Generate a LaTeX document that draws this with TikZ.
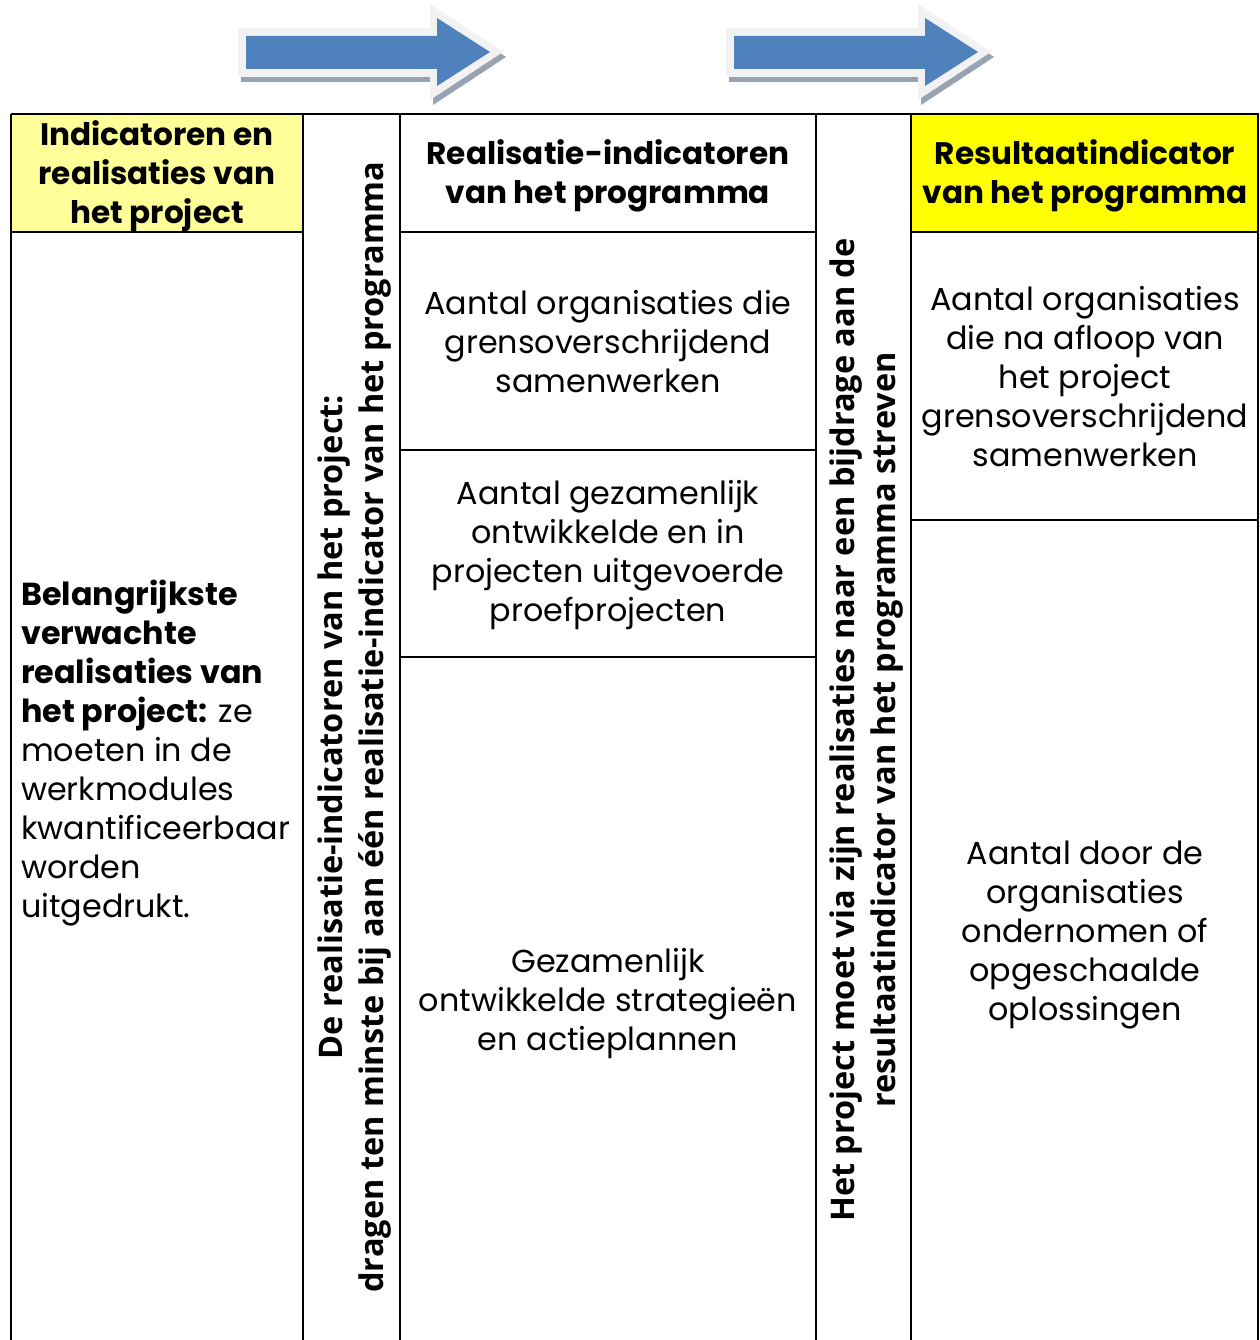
\documentclass[tikz,border=0pt]{standalone}
\usepackage{fontspec}
\setmainfont{Poppins}
\newfontfamily\vfont{Open Sans}
\definecolor{lightyel}{HTML}{FFFF99}
\definecolor{fullyel}{HTML}{FFFF00}
\definecolor{arrblue}{HTML}{4F81BD}
\definecolor{arredge}{HTML}{F2F2F2}
\definecolor{arrshadow}{HTML}{97A2B2}
\begin{document}
\begin{tikzpicture}[x=1pt,y=-1pt,
  grid/.style={line width=2pt,black},
  txt/.style={align=center,font=\fontsize{31.8}{39}\selectfont,inner sep=0pt},
  btxt/.style={align=center,font=\fontsize{31.1}{39}\selectfont\bfseries,inner sep=0pt},
  vtxt/.style={align=center,font=\fontsize{32.5}{41}\selectfont\vfont\bfseries,inner sep=0pt,rotate=90},
]
\useasboundingbox (0,0) rectangle (1259,1340);
% arrows
\foreach \dx/\nm in {0/a1,488/a2}{
  \begin{scope}[xshift=\dx pt]
  \fill[arrshadow] (241,33) -- (433,33) -- (433,9) -- (506,57) -- (433,105) -- (433,82) -- (241,82) -- cycle;
  \fill[arredge] (238,28) -- (430,28) -- (430,4) -- (503,52) -- (430,100) -- (430,77) -- (238,77) -- cycle;
  \fill[arrblue] (246,36) -- (437,36) -- (437,18) -- (490,52) -- (437,86) -- (437,69) -- (246,69) -- cycle;
  \coordinate (\nm) at (370,52);
  \end{scope}
}
% fills
\fill[lightyel] (11,114) rectangle (303,232);
\fill[fullyel] (911,114) rectangle (1259,232);
% grid
\draw[grid] (11,114) -- (1259,114);
\draw[grid] (11,1341) -- (11,114);
\draw[grid] (303,114) -- (303,1341);
\draw[grid] (400,114) -- (400,1341);
\draw[grid] (816,114) -- (816,1341);
\draw[grid] (911,114) -- (911,1341);
\draw[grid] (1258,114) -- (1258,1341);
\draw[grid] (11,232) -- (303,232);
\draw[grid] (400,232) -- (816,232);
\draw[grid] (911,232) -- (1259,232);
\draw[grid] (400,450) -- (816,450);
\draw[grid] (400,657) -- (816,657);
\draw[grid] (911,520) -- (1259,520);
% texts
\node[btxt] (h1) at (157,176) {Indicatoren en\\realisaties van\\het project};
\node[btxt] (h3) at (608,176) {Realisatie-indicatoren\\van het programma};
\node[btxt] (h5) at (1085,176) {Resultaatindicator\\van het programma};
\node[txt,align=left,anchor=west] (b1) at (21,753) {\textbf{Belangrijkste}\\\textbf{verwachte}\\\textbf{realisaties van}\\\textbf{het project:} ze\\moeten in de\\werkmodules\\kwantificeerbaar\\worden\\uitgedrukt.};
\node[txt] (c31) at (608,342) {Aantal organisaties die\\grensoverschrijdend\\samenwerken};
\node[txt] (c32) at (608,555) {Aantal gezamenlijk\\ontwikkelde en in\\projecten uitgevoerde\\proefprojecten};
\node[txt] (c33) at (608,1004) {Gezamenlijk\\ontwikkelde strategieën\\en actieplannen};
\node[txt] (c51) at (1085,377) {Aantal organisaties\\die na afloop van\\het project\\grensoverschrijdend\\samenwerken};
\node[txt] (c52) at (1085,935) {Aantal door de\\organisaties\\ondernomen of\\opgeschaalde\\oplossingen};
\node[vtxt] (v2) at (355,727) {De realisatie-indicatoren van het project:\\dragen ten minste bij aan één realisatie-indicator van het programma};
\node[vtxt] (v4) at (867,730) {Het project moet via zijn realisaties naar een bijdrage aan de\\resultaatindicator van het programma streven};
\end{tikzpicture}
\end{document}
